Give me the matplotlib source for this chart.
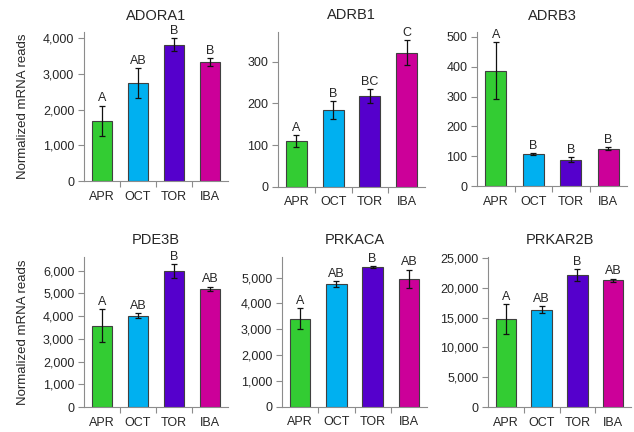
import matplotlib
matplotlib.use("Agg")
import matplotlib.pyplot as plt
from matplotlib.ticker import FuncFormatter

plt.rcParams['font.family'] = ['Liberation Sans', 'DejaVu Sans']

categories = ["APR", "OCT", "TOR", "IBA"]
colors = ["#33CC33", "#00B0F0", "#5500CC", "#CC0099"]

genes = ["ADORA1", "ADRB1", "ADRB3", "PDE3B", "PRKACA", "PRKAR2B"]

adora1_vals = [1690, 2740, 3820, 3330]
adora1_err = [420, 410, 180, 100]
adora1_lbl = ["A", "AB", "B", "B"]

adrb1_vals = [110, 184, 218, 322]
adrb1_err = [14, 21, 16, 30]
adrb1_lbl = ["A", "B", "BC", "C"]

adrb3_vals = [387, 108, 89, 126]
adrb3_err = [95, 4, 8, 5]
adrb3_lbl = ["A", "B", "B", "B"]

pde3b_vals = [3580, 4030, 5990, 5200]
pde3b_err = [720, 100, 320, 100]
pde3b_lbl = ["A", "AB", "B", "AB"]

prkaca_vals = [3410, 4750, 5400, 4950]
prkaca_err = [400, 130, 40, 360]
prkaca_lbl = ["A", "AB", "B", "AB"]

prkar2b_vals = [14780, 16380, 22170, 21280]
prkar2b_err = [2500, 600, 1000, 300]
prkar2b_lbl = ["A", "AB", "B", "AB"]

yticks = [
    [0, 1000, 2000, 3000, 4000],
    [0, 100, 200, 300],
    [0, 100, 200, 300, 400, 500],
    [0, 1000, 2000, 3000, 4000, 5000, 6000],
    [0, 1000, 2000, 3000, 4000, 5000],
    [0, 5000, 10000, 15000, 20000, 25000],
]
ylims = [4170, 372, 516, 6620, 5810, 25200]

data = [
    (adora1_vals, adora1_err, adora1_lbl),
    (adrb1_vals, adrb1_err, adrb1_lbl),
    (adrb3_vals, adrb3_err, adrb3_lbl),
    (pde3b_vals, pde3b_err, pde3b_lbl),
    (prkaca_vals, prkaca_err, prkaca_lbl),
    (prkar2b_vals, prkar2b_err, prkar2b_lbl),
]

W, H = 634, 432
# axes rectangles in pixels: left, right, bottom(y px), top(y px)
rects = [
    (84, 228, 181, 32),
    (278, 425, 186.7, 31.7),
    (477, 627, 186.3, 32),
    (84, 228, 407, 256.7),
    (282, 427, 406.7, 256.7),
    (488, 631, 407, 257),
]

fig = plt.figure(figsize=(W / 100, H / 100), dpi=100)
spine_col = "#8c8c8c"
txt_col = "#262626"

for i, (gene, (vals, errs, lbls)) in enumerate(zip(genes, data)):
    l, r, b, t = rects[i]
    ax = fig.add_axes([l / W, (H - b) / H, (r - l) / W, (b - t) / H])
    x = list(range(len(categories)))
    ax.bar(x, vals, width=0.57, color=colors, edgecolor="#404040", linewidth=0.8, zorder=2)
    ax.errorbar(x, vals, yerr=errs, fmt="none", ecolor="#111111", elinewidth=0.9,
                capsize=2.2, capthick=0.9, zorder=3)
    ymax = ylims[i]
    for xi, v, e, lb in zip(x, vals, errs, lbls):
        ax.text(xi, v + e + ymax * 0.008, lb, ha="center", va="bottom",
                fontsize=9, color=txt_col)
    ax.set_xlim(-0.5, 3.5)
    ax.set_ylim(0, ymax)
    ax.set_yticks(yticks[i])
    ax.yaxis.set_major_formatter(FuncFormatter(lambda v, p: f"{int(v):,}"))
    ax.set_xticks([0.5, 1.5, 2.5])
    ax.set_xticklabels([])
    ax.set_xticks(x, minor=True)
    ax.set_xticklabels(categories, minor=True)
    ax.tick_params(axis="x", which="major", direction="out", length=4, color=spine_col, width=0.8)
    ax.tick_params(axis="x", which="minor", length=0, pad=7, labelsize=9, labelcolor=txt_col)
    ax.tick_params(axis="y", direction="out", length=4, color=spine_col, width=0.8,
                   labelsize=9, labelcolor=txt_col, pad=3)
    for s in ["top", "right"]:
        ax.spines[s].set_visible(False)
    for s in ["left", "bottom"]:
        ax.spines[s].set_color(spine_col)
        ax.spines[s].set_linewidth(0.8)
    ax.set_title(gene, fontsize=10.5, color=txt_col, pad=9)
    if i in (0, 3):
        ax.set_ylabel("Normalized mRNA reads", fontsize=9.5, color=txt_col)
        ax.yaxis.set_label_coords(-0.385, 0.5)

fig.savefig("out.png", dpi=100, facecolor="white")
